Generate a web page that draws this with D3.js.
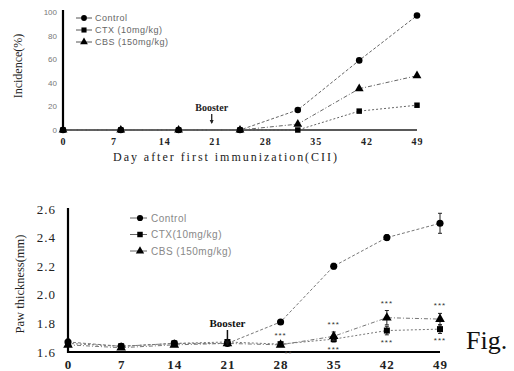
<!DOCTYPE html>
<html><head><meta charset="utf-8">
<script src="https://cdn.jsdelivr.net/npm/d3@7"></script>
<style>html,body{margin:0;padding:0;background:#fff;}svg{display:block;}</style>
</head><body>
<svg id="c" width="514" height="371"></svg>
<script>
// ---- Data: top panel (Incidence %) ----
const topDays = [0, 8, 16, 24.5, 32.5, 41, 49];
const topControl = [0, 0, 0, 0, 17, 59, 97];
const topCTX = [0, 0, 0, 0, 0, 16, 21];
const topCBS = [0, 0, 0, 0, 5, 35, 46];
const topXTicks = [0, 7, 14, 21, 28, 35, 42, 49];
const topYTicks = [0, 20, 40, 60, 80, 100];
const topLegend = ["Control", "CTX (10mg/kg)", "CBS (150mg/kg)"];

// ---- Data: bottom panel (Paw thickness mm) ----
const botDays = [0, 7, 14, 21, 28, 35, 42, 49];
const botControl = [1.67, 1.64, 1.66, 1.66, 1.81, 2.20, 2.40, 2.50];
const botControlErr = [0.02, 0.01, 0.01, 0.01, 0.01, 0.02, 0.02, 0.07];
const botCTX = [1.66, 1.64, 1.66, 1.67, 1.655, 1.69, 1.75, 1.76];
const botCTXErr = [0.01, 0.01, 0.01, 0.01, 0.01, 0.02, 0.03, 0.03];
const botCBS = [1.65, 1.63, 1.65, 1.66, 1.65, 1.71, 1.84, 1.83];
const botCBSErr = [0.01, 0.01, 0.01, 0.01, 0.01, 0.03, 0.05, 0.04];
const botXTicks = [0, 7, 14, 21, 28, 35, 42, 49];
const botYTicks = [1.6, 1.8, 2.0, 2.2, 2.4, 2.6];
const botYTickLabels = ["1.6", "1.8", "2.0", "2.2", "2.4", "2.6"];
const botLegend = ["Control", "CTX(10mg/kg)", "CBS (150mg/kg)"];
const sigDays = [28, 35, 42, 49];
const sigAbove = ["***", "***", "***", "***"];
const sigBelow = ["**", "***", "***", "***"];
const boosterDay = 21;

const svg = d3.select("#c");
const serif = "'Liberation Serif','DejaVu Serif',serif";
const sans = "'Liberation Sans',Arial,sans-serif";
const symbols = [d3.symbolCircle, d3.symbolSquare, d3.symbolTriangle];
const symSize = [34, 30, 34];

function sym(i, s) { return d3.symbol().type(symbols[i]).size(s || symSize[i])(); }

// ================= TOP PANEL =================
{
  const x = d3.scaleLinear().domain([0, 49]).range([63, 417]);
  const y = d3.scaleLinear().domain([0, 100]).range([130, 12]);
  const g = svg.append("g");

  const ya = d3.axisLeft(y).tickValues(topYTicks).tickSize(0).tickPadding(6);
  const yg = g.append("g").attr("transform", "translate(63,0)").call(ya);
  yg.select(".domain").remove();
  yg.selectAll("text").attr("font-family", sans).attr("font-size", 8).attr("fill", "#777");
  g.append("line").attr("x1", 63).attr("x2", 63).attr("y1", y(100) - 2).attr("y2", y(0) + 1)
    .attr("stroke", "#000").attr("stroke-width", 2.2);

  const xa = d3.axisBottom(x).tickValues(topXTicks).tickSize(0).tickPadding(8);
  const xg = g.append("g").attr("transform", "translate(0,130)").call(xa);
  xg.select(".domain").remove();
  xg.selectAll("text").attr("font-family", serif).attr("font-size", 10).attr("font-weight", "bold")
    .attr("fill", "#222").attr("letter-spacing", 1);
  g.append("line").attr("x1", 63).attr("x2", x(49)).attr("y1", y(0)).attr("y2", y(0))
    .attr("stroke", "#222").attr("stroke-width", 1.3);

  const series = [topControl, topCTX, topCBS];
  const line = d3.line().x((d, i) => x(topDays[i])).y(d => y(d));
  series.forEach((s, k) => {
    g.append("path").attr("d", line(s)).attr("fill", "none").attr("stroke", "#666")
      .attr("stroke-width", 1).attr("stroke-dasharray", k === 0 ? "3,2" : (k === 1 ? "2,2" : "4,2,1,2"));
  });
  series.forEach((s, k) => {
    g.selectAll(null).data(s).enter().append("path")
      .attr("d", sym(k)).attr("transform", (d, i) => `translate(${x(topDays[i])},${y(d)})`)
      .attr("fill", "#000");
  });

  topLegend.forEach((t, k) => {
    const ly = 18 + k * 12;
    g.append("line").attr("x1", 76).attr("x2", 92).attr("y1", ly).attr("y2", ly)
      .attr("stroke", "#555").attr("stroke-width", 1);
    g.append("path").attr("d", sym(k, 26)).attr("transform", `translate(84,${ly})`).attr("fill", "#000");
    g.append("text").attr("x", 95).attr("y", ly + 3).text(t).attr("font-family", sans)
      .attr("font-size", 9).attr("fill", "#666").attr("letter-spacing", 0.5);
  });

  const bx = x(boosterDay) - 3;
  g.append("text").attr("x", bx).attr("y", 111).attr("text-anchor", "middle").text("Booster")
    .attr("font-family", serif).attr("font-size", 10).attr("font-weight", "bold").attr("fill", "#222");
  g.append("line").attr("x1", bx).attr("x2", bx).attr("y1", 114).attr("y2", 123).attr("stroke", "#222").attr("stroke-width", 1.3);
  g.append("path").attr("d", `M${bx - 2},${120}L${bx},${124}L${bx + 2},${120}Z`).attr("fill", "#222");

  g.append("text").attr("transform", "translate(22,66) rotate(-90)").attr("text-anchor", "middle")
    .text("Incidence(%)").attr("font-family", serif).attr("font-size", 12).attr("fill", "#222");
  g.append("text").attr("x", 113).attr("y", 161).text("Day after first immunization(CII)")
    .attr("font-family", serif).attr("font-size", 12).attr("fill", "#222")
    .attr("textLength", 224).attr("lengthAdjust", "spacing");
}

// ================= BOTTOM PANEL =================
{
  const x = d3.scaleLinear().domain([0, 49]).range([68, 440]);
  const y = d3.scaleLinear().domain([1.6, 2.6]).range([352, 209]);
  const g = svg.append("g");

  const ya = d3.axisLeft(y).tickValues(botYTicks).tickFormat((d, i) => botYTickLabels[i]).tickSize(0).tickPadding(12);
  const yg = g.append("g").attr("transform", "translate(68,0)").call(ya);
  yg.select(".domain").remove();
  yg.selectAll("text").attr("font-family", serif).attr("font-size", 13).attr("fill", "#222").attr("letter-spacing", 1);
  g.append("line").attr("x1", 68).attr("x2", 68).attr("y1", y(2.6) - 1).attr("y2", y(1.6) + 1)
    .attr("stroke", "#000").attr("stroke-width", 2.2);

  const xa = d3.axisBottom(x).tickValues(botXTicks).tickSize(0).tickPadding(8);
  const xg = g.append("g").attr("transform", "translate(0,352)").call(xa);
  xg.select(".domain").remove();
  xg.selectAll("text").attr("font-family", serif).attr("font-size", 13).attr("font-weight", "bold")
    .attr("fill", "#222").attr("letter-spacing", 1);
  g.append("line").attr("x1", 68).attr("x2", x(49)).attr("y1", 352).attr("y2", 352)
    .attr("stroke", "#000").attr("stroke-width", 1.8);

  const series = [botControl, botCTX, botCBS];
  const errs = [botControlErr, botCTXErr, botCBSErr];
  const line = d3.line().x((d, i) => x(botDays[i])).y(d => y(d));
  series.forEach((s, k) => {
    g.append("path").attr("d", line(s)).attr("fill", "none").attr("stroke", "#777")
      .attr("stroke-width", 1).attr("stroke-dasharray", k === 0 ? "3,2" : (k === 1 ? "2,2" : "4,2,1,2"));
  });
  series.forEach((s, k) => {
    s.forEach((v, i) => {
      const cx = x(botDays[i]), e = errs[k][i];
      g.append("line").attr("x1", cx).attr("x2", cx).attr("y1", y(v + e)).attr("y2", y(v - e)).attr("stroke", "#222").attr("stroke-width", 1);
      [v + e, v - e].forEach(w => g.append("line").attr("x1", cx - 2).attr("x2", cx + 2).attr("y1", y(w)).attr("y2", y(w)).attr("stroke", "#222").attr("stroke-width", 1));
    });
    g.selectAll(null).data(s).enter().append("path")
      .attr("d", sym(k, k === 1 ? 36 : 40)).attr("transform", (d, i) => `translate(${x(botDays[i])},${y(d)})`)
      .attr("fill", "#000");
  });

  sigDays.forEach((d, j) => {
    const i = botDays.indexOf(d);
    const top = Math.max(botCBS[i] + botCBSErr[i], botCTX[i] + botCTXErr[i]);
    const bot = Math.min(botCBS[i] - botCBSErr[i], botCTX[i] - botCTXErr[i]);
    g.append("text").attr("x", x(d)).attr("y", y(top) - 5).attr("text-anchor", "middle").text(sigAbove[j])
      .attr("font-family", sans).attr("font-size", 8).attr("fill", "#333").attr("letter-spacing", 1);
    g.append("text").attr("x", x(d) + (j === 0 ? 8 : 0)).attr("y", y(bot) + 10).attr("text-anchor", "middle").text(sigBelow[j])
      .attr("font-family", sans).attr("font-size", 8).attr("fill", "#333").attr("letter-spacing", 1);
  });

  botLegend.forEach((t, k) => {
    const ly = 218 + k * 16.5;
    g.append("line").attr("x1", 130).attr("x2", 147).attr("y1", ly).attr("y2", ly)
      .attr("stroke", "#666").attr("stroke-width", 1);
    g.append("path").attr("d", sym(k, 30)).attr("transform", `translate(140,${ly})`).attr("fill", "#000");
    g.append("text").attr("x", 151).attr("y", ly + 3.5).text(t).attr("font-family", sans)
      .attr("font-size", 10).attr("fill", "#888").attr("letter-spacing", 0.5);
  });

  const bx = x(boosterDay);
  g.append("text").attr("x", bx).attr("y", 327).attr("text-anchor", "middle").text("Booster")
    .attr("font-family", serif).attr("font-size", 11).attr("font-weight", "bold").attr("fill", "#111");
  g.append("line").attr("x1", bx).attr("x2", bx).attr("y1", 330).attr("y2", 345).attr("stroke", "#111").attr("stroke-width", 1.5);
  g.append("path").attr("d", `M${bx - 2.5},${341}L${bx},${346}L${bx + 2.5},${341}Z`).attr("fill", "#111");

  g.append("text").attr("transform", "translate(24,284) rotate(-90)").attr("text-anchor", "middle")
    .text("Paw thickness(mm)").attr("font-family", serif).attr("font-size", 12.5).attr("fill", "#222");

  g.append("text").attr("x", 466).attr("y", 349).text("Fig.").attr("font-family", serif)
    .attr("font-size", 26).attr("fill", "#111");
}
</script>
</body></html>
